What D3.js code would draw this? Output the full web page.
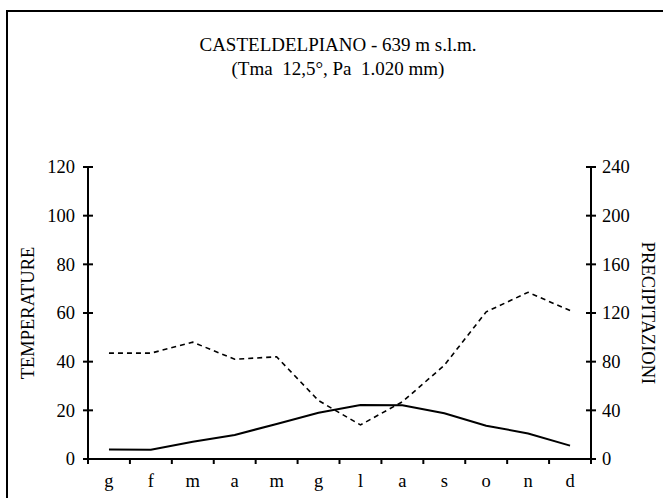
<!DOCTYPE html>
<html>
<head>
<meta charset="utf-8">
<script src="https://cdn.jsdelivr.net/npm/d3@7"></script>
<style>
  html, body { margin: 0; padding: 0; background: #fff; }
  svg { display: block; }
</style>
</head>
<body>
<svg id="chart" width="663" height="498"></svg>
<script>
const months = ["g", "f", "m", "a", "m", "g", "l", "a", "s", "o", "n", "d"];
const temperature = [3.9, 3.8, 7.1, 9.9, 14.4, 19.0, 22.2, 22.1, 18.8, 13.7, 10.5, 5.5];
const precipitation = [87, 87, 96, 82, 84, 48, 28, 47, 77, 121, 137, 122];
const leftTicks = [0, 20, 40, 60, 80, 100, 120];
const rightTicks = [0, 40, 80, 120, 160, 200, 240];
const titleLines = ["CASTELDELPIANO - 639 m s.l.m.", "(Tma  12,5°, Pa  1.020 mm)"];

const FONT = "'Liberation Serif', 'Times New Roman', Times, 'DejaVu Serif', serif";

const svg = d3.select("#chart");
const W = 663, H = 498;
const plot = { left: 88, right: 591, top: 167, bottom: 459 };

svg.append("path")
  .attr("d", `M7,${H} L7,11 L${W},11`)
  .attr("fill", "none").attr("stroke", "#000").attr("stroke-width", 2);

const x = d3.scaleBand().domain(d3.range(months.length)).range([plot.left, plot.right]);
const yL = d3.scaleLinear().domain([0, 120]).range([plot.bottom, plot.top]);
const yR = d3.scaleLinear().domain([0, 240]).range([plot.bottom, plot.top]);

function txt(sel, size) {
  return sel.attr("font-family", FONT).attr("font-size", size + "px").attr("fill", "#000");
}

// title
titleLines.forEach((t, i) => {
  txt(svg.append("text"), 19)
    .attr("x", 338).attr("y", 51 + i * 24)
    .attr("text-anchor", "middle").attr("xml:space", "preserve").text(t);
});

// left axis
const gL = svg.append("g");
gL.append("line").attr("x1", plot.left).attr("x2", plot.left).attr("y1", yL(120)).attr("y2", yL(0))
  .attr("stroke", "#000").attr("stroke-width", 2);
leftTicks.forEach(v => {
  gL.append("line").attr("x1", plot.left - 5).attr("x2", plot.left + 5).attr("y1", yL(v)).attr("y2", yL(v))
    .attr("stroke", "#000").attr("stroke-width", 2);
  txt(gL.append("text"), 18.5).attr("x", plot.left - 13).attr("y", yL(v)).attr("dy", "0.35em")
    .attr("text-anchor", "end").text(v);
});

// right axis
const gR = svg.append("g");
gR.append("line").attr("x1", plot.right).attr("x2", plot.right).attr("y1", yR(240)).attr("y2", yR(0))
  .attr("stroke", "#000").attr("stroke-width", 2);
rightTicks.forEach(v => {
  gR.append("line").attr("x1", plot.right - 5).attr("x2", plot.right + 5).attr("y1", yR(v)).attr("y2", yR(v))
    .attr("stroke", "#000").attr("stroke-width", 2);
  txt(gR.append("text"), 18.5).attr("x", plot.right + 11).attr("y", yR(v)).attr("dy", "0.35em")
    .attr("text-anchor", "start").text(v);
});

// x axis
const gX = svg.append("g");
gX.append("line").attr("x1", plot.left).attr("x2", plot.right).attr("y1", plot.bottom).attr("y2", plot.bottom)
  .attr("stroke", "#000").attr("stroke-width", 2);
d3.range(months.length + 1).forEach(i => {
  const xx = plot.left + i * x.step();
  gX.append("line").attr("x1", xx).attr("x2", xx).attr("y1", plot.bottom).attr("y2", plot.bottom + 5)
    .attr("stroke", "#000").attr("stroke-width", 2);
});
months.forEach((m, i) => {
  txt(gX.append("text"), 18.5).attr("x", x(i) + x.bandwidth() / 2).attr("y", 487)
    .attr("text-anchor", "middle").text(m);
});

// axis titles
txt(svg.append("text"), 18.5).attr("transform", `translate(34,313) rotate(-90)`)
  .attr("text-anchor", "middle").text("TEMPERATURE");
txt(svg.append("text"), 18.5).attr("transform", `translate(642,313) rotate(90)`)
  .attr("text-anchor", "middle").text("PRECIPITAZIONI");

// series
const cx = i => x(i) + x.bandwidth() / 2;
svg.append("path").datum(precipitation)
  .attr("d", d3.line().x((d, i) => cx(i)).y(d => yR(d)))
  .attr("fill", "none").attr("stroke", "#000").attr("stroke-width", 1.6).attr("stroke-dasharray", "5,4");
svg.append("path").datum(temperature)
  .attr("d", d3.line().x((d, i) => cx(i)).y(d => yL(d)))
  .attr("fill", "none").attr("stroke", "#000").attr("stroke-width", 2);
</script>
</body>
</html>
